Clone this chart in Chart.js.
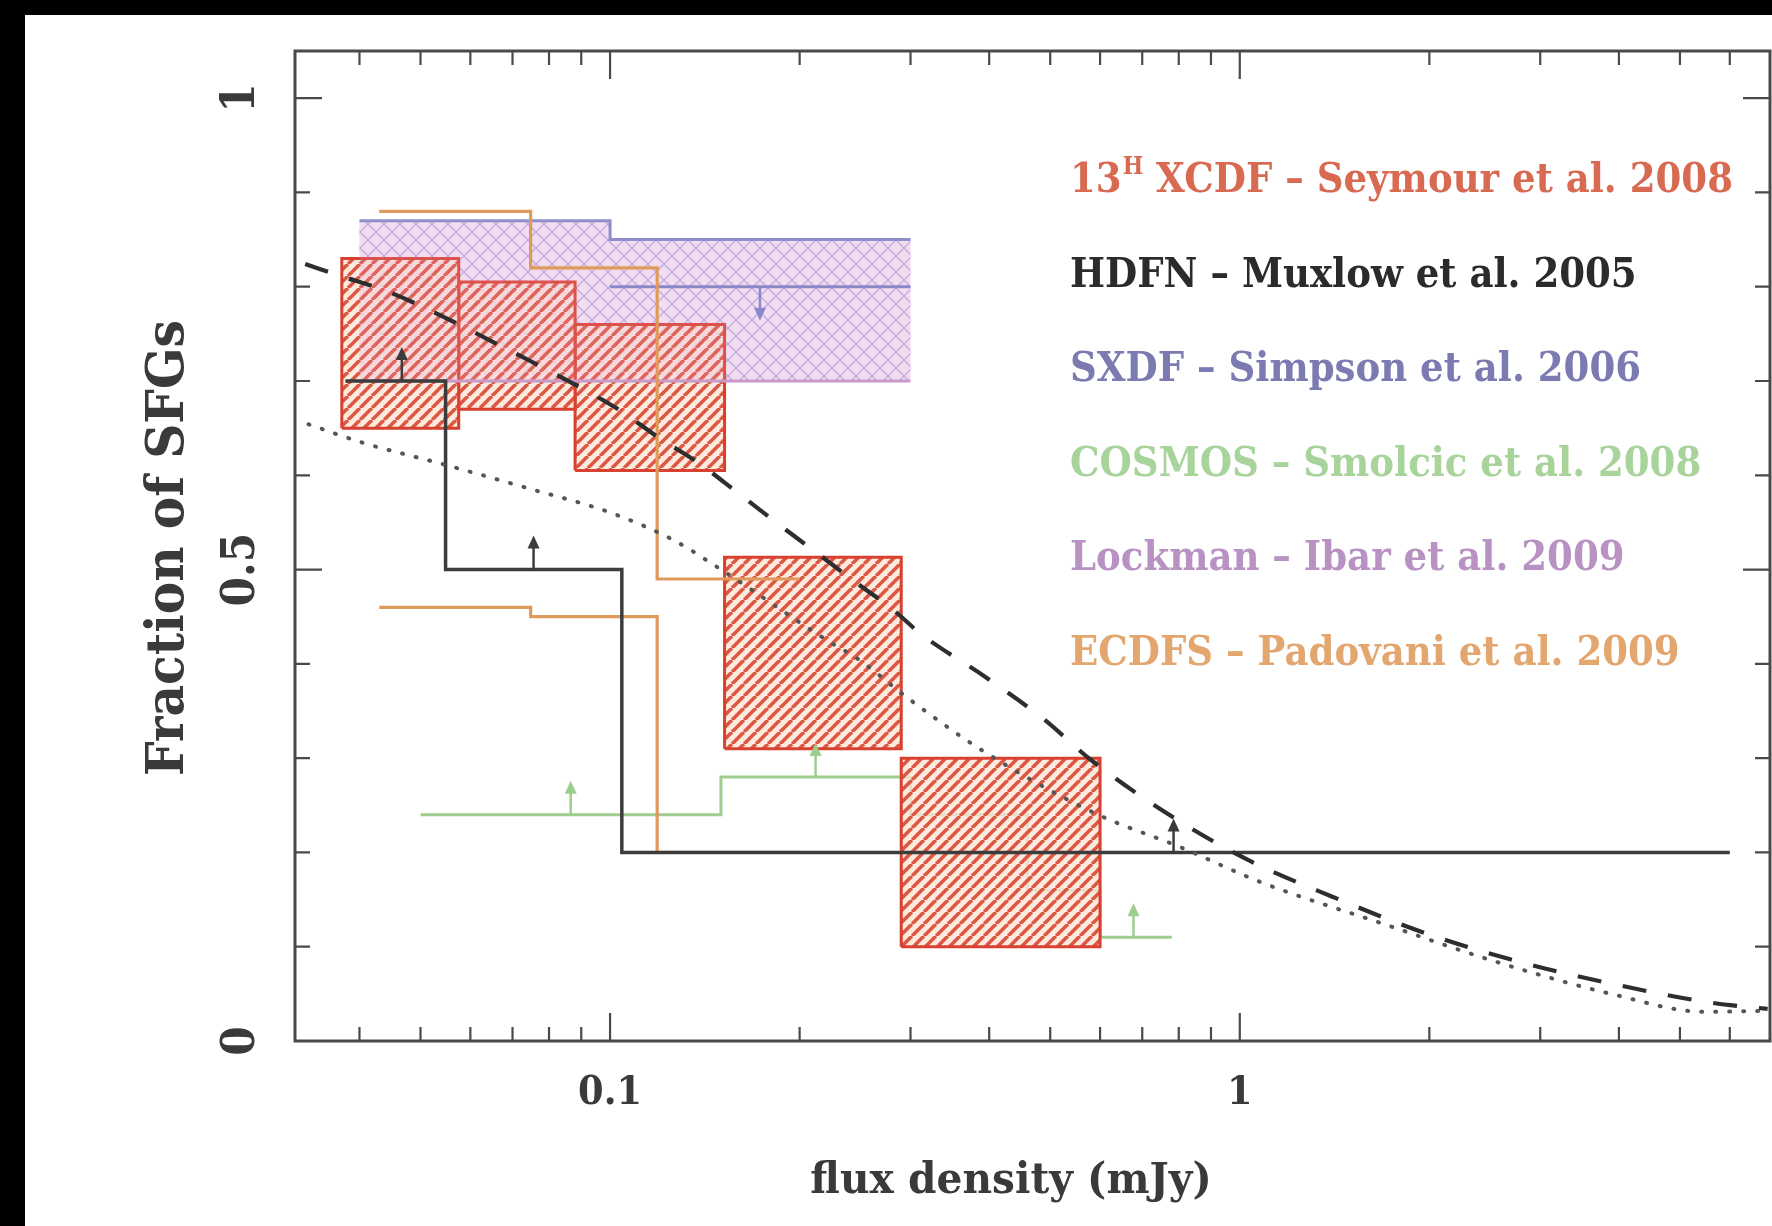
<!DOCTYPE html>
<html lang="en">
<head>
<meta charset="utf-8">
<title>Fraction of SFGs</title>
<script src="https://cdn.jsdelivr.net/npm/chart.js@4.4.1/dist/chart.umd.min.js"></script>
<style>
  html, body { margin: 0; padding: 0; background: #000; }
  canvas { display: block; }
</style>
</head>
<body>
<canvas id="sfgChart" width="1772" height="1226"></canvas>
<script>
// Axis ranges and ticks
const X_MIN = 0.0316;
const X_MAX = 6.95;
const Y_MAX = 1.05;
const xMinorTicks = [0.04, 0.05, 0.06, 0.07, 0.08, 0.09, 0.2, 0.3, 0.4, 0.5, 0.6, 0.7, 0.8, 0.9, 2, 3, 4, 5, 6];
const xMajorTicks = [0.1, 1];
const xTickLabels = ['0.1', '1'];
const yMinorTicks = [0.1, 0.2, 0.3, 0.4, 0.6, 0.7, 0.8, 0.9];
const yMajorTicks = [0, 0.5, 1];
const yTickLabels = ['0', '0.5', '1'];

// 13H XCDF - Seymour et al. 2008 (hatched boxes)
const xcdfEdges = [0.0375, 0.0575, 0.088, 0.152, 0.29, 0.60];
const xcdfLow = [0.65, 0.67, 0.605, 0.31, 0.10];
const xcdfHigh = [0.83, 0.805, 0.76, 0.513, 0.30];

// HDFN - Muxlow et al. 2005 (lower limits)
const hdfnEdges = [0.038, 0.0548, 0.1044, 6.0];
const hdfnFrac = [0.70, 0.50, 0.20];
const hdfnArrowX = [0.0467, 0.0756, 0.785];

// SXDF - Simpson et al. 2006 (upper limit)
const sxdfEdges = [0.1, 0.3];
const sxdfFrac = [0.80];
const sxdfArrowX = [0.173];

// Lockman - Ibar et al. 2009 (cross-hatched range)
const lockmanEdges = [0.04, 0.1, 0.3];
const lockmanHigh = [0.87, 0.85];
const lockmanLow = [0.70, 0.70];

// COSMOS - Smolcic et al. 2008 (lower limits)
const cosmosEdges = [0.05, 0.15, 0.30, 0.46, 0.60, 0.78];
const cosmosFrac = [0.24, 0.28, 0.24, 0.16, 0.11];
const cosmosArrowX = [0.0866, 0.212, 0.678];

// ECDFS - Padovani et al. 2009 (upper and lower bounds)
const ecdfsEdges = [0.043, 0.0748, 0.1188, 0.2];
const ecdfsHigh = [0.88, 0.82, 0.49];
const ecdfsLow = [0.46, 0.45, 0.20];

// model curves
const dashedX = [0.0328, 0.0375, 0.0443, 0.0548, 0.0658, 0.0743, 0.1036, 0.1188, 0.1382, 0.1584, 0.1844, 0.2146,
  0.246, 0.282, 0.3112, 0.3945, 0.489, 0.5805, 0.785, 1.038, 1.403, 1.978, 2.852, 3.945, 5.56, 6.89];
const dashedY = [0.824, 0.811, 0.795, 0.767, 0.740, 0.722, 0.669, 0.641, 0.613, 0.583, 0.549, 0.516,
  0.486, 0.457, 0.432, 0.386, 0.341, 0.298, 0.237, 0.191, 0.153, 0.114, 0.082, 0.060, 0.041, 0.034];
const dottedX = [0.0332, 0.0405, 0.0548, 0.0743, 0.1005, 0.1263, 0.1469, 0.221, 0.249, 0.298, 0.3945, 0.5935,
  0.802, 1.084, 1.668, 2.565, 3.945, 5.446, 6.89];
const dottedY = [0.654, 0.6345, 0.611, 0.586, 0.560, 0.531, 0.504, 0.425, 0.404, 0.363, 0.306, 0.2405,
  0.206, 0.168, 0.1255, 0.0836, 0.0489, 0.031, 0.032];

// legend entries
const legendNames = ['XCDF \u2013 Seymour et al. 2008', 'HDFN \u2013 Muxlow et al. 2005', 'SXDF \u2013 Simpson et al. 2006',
  'COSMOS \u2013 Smolcic et al. 2008', 'Lockman \u2013 Ibar et al. 2009', 'ECDFS \u2013 Padovani et al. 2009'];
const legendColors = ['#d86a52', '#2b2b2b', '#7b7bb2', '#a8d49b', '#b892c2', '#e2a66e'];

const FONT = '"DejaVu Serif", "Liberation Serif", serif';
const INK = '#3a3a3a';
const SQUEEZE = 0.92;
const LEGEND_SQUEEZE = 0.905;

// helpers to turn bins into polyline points
function stepPoints(edges, values) {
  const pts = [];
  values.forEach((v, i) => {
    pts.push({ x: edges[i], y: v });
    pts.push({ x: edges[i + 1], y: v });
  });
  return pts;
}

function boxPoints(x0, x1, lo, hi) {
  return [{ x: x0, y: lo }, { x: x0, y: hi }, { x: x1, y: hi }, { x: x1, y: lo }, { x: x0, y: lo }];
}

function bandPoints(edges, high, low) {
  const top = stepPoints(edges, high);
  const bottom = stepPoints(edges, low).reverse();
  return top.concat(bottom, [top[0]]);
}

function curvePoints(xs, ys) {
  return xs.map((x, i) => ({ x: x, y: ys[i] }));
}

function valueAt(edges, values, x) {
  for (let i = 0; i < values.length; i++) {
    if (x >= edges[i] && x <= edges[i + 1]) return values[i];
  }
  return values[values.length - 1];
}

function makeHatch(size, bg, stroke, width, cross) {
  const c = document.createElement('canvas');
  c.width = size;
  c.height = size;
  const g = c.getContext('2d');
  g.fillStyle = bg;
  g.fillRect(0, 0, size, size);
  g.strokeStyle = stroke;
  g.lineWidth = width;
  g.beginPath();
  for (const o of [-size, 0, size]) {
    g.moveTo(o, size);
    g.lineTo(o + size, 0);
    if (cross) {
      g.moveTo(o, 0);
      g.lineTo(o + size, size);
    }
  }
  g.stroke();
  return g.createPattern(c, 'repeat');
}

const redHatch = makeHatch(12, 'rgba(253,228,214,0.8)', '#dd5844', 3.6, false);
const crossHatch = makeHatch(16, '#f6e6f3', 'rgba(140,140,210,0.6)', 1.4, true);

function line(points, color, width, order, extra) {
  return Object.assign({
    data: points,
    showLine: true,
    borderColor: color,
    borderWidth: width,
    pointRadius: 0,
    fill: false,
    order: order
  }, extra || {});
}

// text squeezed sideways, drawn at the current alignment
function squeezedText(ctx, text, x, y, sx) {
  ctx.save();
  ctx.translate(x, y);
  ctx.scale(sx, 1);
  ctx.fillText(text, 0, 0);
  ctx.restore();
}

const datasets = [];

// cross-hatched range at the back
datasets.push(line(bandPoints(lockmanEdges, lockmanHigh, lockmanLow), 'rgba(0,0,0,0)', 0, 30,
  { fill: 'shape', backgroundColor: crossHatch }));

// COSMOS sits under the hatched boxes
datasets.push(line(stepPoints(cosmosEdges, cosmosFrac), '#9fcd8f', 3, 25));

// hatched boxes
for (let i = 0; i < xcdfLow.length; i++) {
  datasets.push(line(boxPoints(xcdfEdges[i], xcdfEdges[i + 1], xcdfLow[i], xcdfHigh[i]), '#d8412f', 3, 20,
    { fill: 'shape', backgroundColor: redHatch }));
}

// pink tint of the range over the boxes
datasets.push(line(bandPoints(lockmanEdges, lockmanHigh, lockmanLow), 'rgba(0,0,0,0)', 0, 15,
  { fill: 'shape', backgroundColor: 'rgba(235,170,225,0.16)' }));

// edges of the range and the upper limit line
datasets.push(line(stepPoints(lockmanEdges, lockmanHigh), '#8f8dcc', 3, 10));
datasets.push(line(stepPoints(lockmanEdges, lockmanLow), '#c99bcb', 3, 10));
datasets.push(line(stepPoints(sxdfEdges, sxdfFrac), '#8a88cc', 3, 10));

// ECDFS bounds
datasets.push(line(stepPoints(ecdfsEdges, ecdfsHigh), '#df9a5c', 3.2, 8));
datasets.push(line(stepPoints(ecdfsEdges, ecdfsLow), '#df9a5c', 3.2, 8));

// HDFN
datasets.push(line(stepPoints(hdfnEdges, hdfnFrac), '#3c3c3c', 3.5, 6));

// model curves
datasets.push(line(curvePoints(dashedX, dashedY), '#2e2e2e', 4.2, 2,
  { borderDash: [24, 22], cubicInterpolationMode: 'monotone' }));
datasets.push(line(curvePoints(dottedX, dottedY), '#555555', 4, 1,
  { borderDash: [1, 13], borderCapStyle: 'round', cubicInterpolationMode: 'monotone' }));

// arrows marking limits
const arrowPlugin = {
  id: 'limitArrows',
  afterDatasetsDraw(chart) {
    const { ctx, scales: { x, y } } = chart;
    const groups = [
      { xs: hdfnArrowX, edges: hdfnEdges, values: hdfnFrac, color: '#3c3c3c', dir: 1 },
      { xs: cosmosArrowX, edges: cosmosEdges, values: cosmosFrac, color: '#9fcd8f', dir: 1 },
      { xs: sxdfArrowX, edges: sxdfEdges, values: sxdfFrac, color: '#8a88cc', dir: -1 }
    ];
    ctx.save();
    groups.forEach(g => {
      g.xs.forEach(v => {
        const px = x.getPixelForValue(v);
        const py = y.getPixelForValue(valueAt(g.edges, g.values, v));
        const tip = py - g.dir * 34;
        ctx.strokeStyle = g.color;
        ctx.fillStyle = g.color;
        ctx.lineWidth = 2.5;
        ctx.beginPath();
        ctx.moveTo(px, py);
        ctx.lineTo(px, tip + g.dir * 8);
        ctx.stroke();
        ctx.beginPath();
        ctx.moveTo(px, tip);
        ctx.lineTo(px - 6, tip + g.dir * 13);
        ctx.lineTo(px + 6, tip + g.dir * 13);
        ctx.closePath();
        ctx.fill();
      });
    });
    ctx.restore();
  }
};

// page border, frame, inward ticks, labels and legend
const framePlugin = {
  id: 'frame',
  beforeDraw(chart) {
    const { ctx, width, height } = chart;
    ctx.save();
    ctx.fillStyle = '#000';
    ctx.fillRect(0, 0, width, height);
    ctx.fillStyle = '#fff';
    ctx.fillRect(25, 15, width - 25, height - 15);
    ctx.restore();
  },
  afterDraw(chart) {
    const { ctx, chartArea: a, scales: { x, y } } = chart;
    ctx.save();
    ctx.strokeStyle = '#4a4a4a';
    ctx.lineWidth = 3;
    ctx.strokeRect(a.left, a.top, a.right - a.left, a.bottom - a.top);

    ctx.lineWidth = 2.2;
    ctx.beginPath();
    const xTick = (v, len) => {
      const px = x.getPixelForValue(v);
      ctx.moveTo(px, a.bottom); ctx.lineTo(px, a.bottom - len);
      ctx.moveTo(px, a.top); ctx.lineTo(px, a.top + len);
    };
    const yTick = (v, len) => {
      const py = y.getPixelForValue(v);
      ctx.moveTo(a.left, py); ctx.lineTo(a.left + len, py);
      ctx.moveTo(a.right, py); ctx.lineTo(a.right - len, py);
    };
    xMinorTicks.forEach(v => xTick(v, 14));
    xMajorTicks.forEach(v => xTick(v, 28));
    yMinorTicks.forEach(v => yTick(v, 15));
    yMajorTicks.forEach(v => yTick(v, 27));
    ctx.stroke();

    // tick labels
    ctx.fillStyle = INK;
    ctx.textAlign = 'center';
    ctx.textBaseline = 'alphabetic';
    ctx.font = 'bold 40px ' + FONT;
    xMajorTicks.forEach((v, i) => {
      squeezedText(ctx, xTickLabels[i], x.getPixelForValue(v), a.bottom + 63, SQUEEZE);
    });
    ctx.font = 'bold 46px ' + FONT;
    yMajorTicks.forEach((v, i) => {
      ctx.save();
      ctx.translate(a.left - 41, y.getPixelForValue(v));
      ctx.rotate(-Math.PI / 2);
      squeezedText(ctx, yTickLabels[i], 0, 0, SQUEEZE);
      ctx.restore();
    });

    // axis titles
    ctx.font = 'bold 42px ' + FONT;
    squeezedText(ctx, 'flux density (mJy)', 1011, a.bottom + 152, 0.97);
    ctx.save();
    ctx.translate(183, 548);
    ctx.rotate(-Math.PI / 2);
    ctx.font = 'bold 53px ' + FONT;
    squeezedText(ctx, 'Fraction of SFGs', 0, 0, SQUEEZE);
    ctx.restore();

    // legend
    ctx.textAlign = 'left';
    const lx = 1070;
    legendNames.forEach((name, i) => {
      const by = 192 + i * 94.6;
      ctx.fillStyle = legendColors[i];
      ctx.font = 'bold 41px ' + FONT;
      let cx = lx;
      if (i === 0) {
        squeezedText(ctx, '13', cx, by, LEGEND_SQUEEZE);
        cx += ctx.measureText('13').width * LEGEND_SQUEEZE + 1;
        ctx.font = 'bold 24px ' + FONT;
        squeezedText(ctx, 'H', cx, by - 18, LEGEND_SQUEEZE);
        cx += ctx.measureText('H').width * LEGEND_SQUEEZE;
        ctx.font = 'bold 41px ' + FONT;
        name = ' ' + name;
      }
      squeezedText(ctx, name, cx, by, LEGEND_SQUEEZE);
    });
    ctx.restore();
  }
};

new Chart(document.getElementById('sfgChart'), {
  type: 'scatter',
  data: { datasets: datasets },
  options: {
    responsive: false,
    animation: false,
    events: [],
    layout: { padding: { left: 295, top: 51, right: 2, bottom: 185 } },
    plugins: { legend: { display: false }, tooltip: { enabled: false } },
    scales: {
      x: { type: 'logarithmic', min: X_MIN, max: X_MAX, display: false },
      y: { type: 'linear', min: 0, max: Y_MAX, display: false }
    }
  },
  plugins: [arrowPlugin, framePlugin]
});
</script>
</body>
</html>
